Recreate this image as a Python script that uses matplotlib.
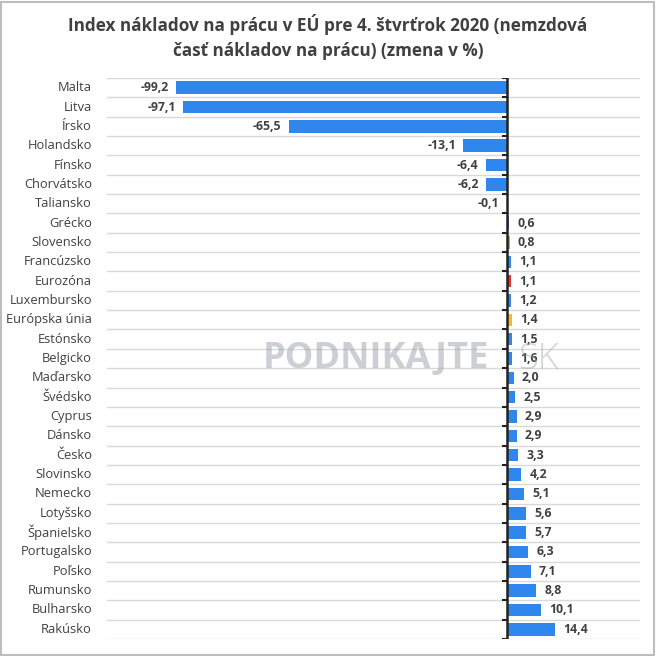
import matplotlib
matplotlib.use("Agg")
import matplotlib.pyplot as plt
from matplotlib.patches import Rectangle

categories = ["Malta", "Litva", "Írsko", "Holandsko", "Fínsko", "Chorvátsko", "Taliansko",
              "Grécko", "Slovensko", "Francúzsko", "Eurozóna", "Luxembursko", "Európska únia",
              "Estónsko", "Belgicko", "Maďarsko", "Švédsko", "Cyprus", "Dánsko", "Česko",
              "Slovinsko", "Nemecko", "Lotyšsko", "Španielsko", "Portugalsko", "Poľsko",
              "Rumunsko", "Bulharsko", "Rakúsko"]
values = [-99.2, -97.1, -65.5, -13.1, -6.4, -6.2, -0.1, 0.6, 0.8, 1.1, 1.1, 1.2, 1.4,
          1.5, 1.6, 2.0, 2.5, 2.9, 2.9, 3.3, 4.2, 5.1, 5.6, 5.7, 6.3, 7.1, 8.8, 10.1, 14.4]
title = "Index nákladov na prácu v EÚ pre 4. štvrťrok 2020 (nemzdová\nčasť nákladov na prácu) (zmena v %)"

BLUE = "#2F87EE"
special = {"Slovensko": "#8CC152", "Eurozóna": "#E8322C", "Európska únia": "#F6BB2B"}
colors = [special.get(c, BLUE) for c in categories]

plt.rcParams['font.family'] = ['Open Sans', 'DejaVu Sans']

fig = plt.figure(figsize=(6.56, 6.56), dpi=100)
fig.patches.append(Rectangle((0.002, 0.002), 0.995, 0.995, transform=fig.transFigure,
                             fill=False, edgecolor="#BDBDBD", linewidth=1.5))
ax = fig.add_axes([0.163, 0.026, 0.813, 0.855])

n = len(categories)
ypos = list(range(n))
ax.barh(ypos, values, height=0.65, color=colors, zorder=3)
ax.set_xlim(-120, 40)
ax.set_ylim(n - 0.5, -0.5)

for sp in ["top", "right", "bottom", "left"]:
    ax.spines[sp].set_visible(False)
ax.set_xticks([])
ax.set_yticks([])

# gridlines at category boundaries
for b in range(n + 1):
    ax.axhline(b - 0.5, color="#D9D9D9", linewidth=1, zorder=1)

# zero axis line with ticks
ax.axvline(0, color="#222222", linewidth=1.8, zorder=4)
for b in range(n + 1):
    ax.plot([-1.6, 0], [b - 0.5, b - 0.5], color="#222222", linewidth=1.5, zorder=4,
            solid_capstyle="butt")

# category labels
for y, c in zip(ypos, categories):
    ax.text(-124.5, y, c, ha="right", va="center", fontsize=9.3, color="#404040")

# value labels
for y, v in zip(ypos, values):
    s = f"{v:.1f}".replace(".", ",")
    if v < 0:
        ax.text(v - 2.2, y, s, ha="right", va="center", fontsize=8.8,
                fontweight="bold", color="#404040", zorder=5)
    else:
        ax.text(v + 2.5, y, s, ha="left", va="center", fontsize=8.8,
                fontweight="bold", color="#404040", zorder=5)

# watermark
fig.text(0.40, 0.452, "PODNIKAJTE", ha="left", va="center", fontsize=26,
         fontweight="bold", color="#9AA3AD", alpha=0.5, zorder=0)
fig.text(0.79, 0.452, "SK", ha="left", va="center", fontsize=26,
         fontweight="light", color="#9AA3AD", alpha=0.45, zorder=0)

fig.suptitle(title, x=0.5, y=0.978, fontsize=12.3, fontweight="bold", color="#404040",
             linespacing=1.45)

fig.savefig("out.png", dpi=100)
